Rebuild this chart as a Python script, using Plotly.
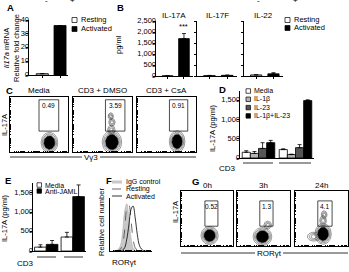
import numpy as np
import plotly.graph_objects as go

W, H = 349, 272
def px(x): return x / W
def py(y): return 1 - y / H

# ---------------- data ----------------
a_groups = ["Resting", "Activated"]
a_values = [1.0, 36.0]
a_ticks = [0, 10, 20, 30, 40]

b_cytokines = ["IL-17A", "IL-17F", "IL-22"]
b_resting = [10, 20, 50]
b_resting_err = [0, 8, 10]
b_activated = [1700, 30, 100]
b_activated_err = [230, 12, 50]
b_ticks = [0, 500, 1000, 1500, 2000, 2500]

c_titles = ["Media", "CD3 + DMSO", "CD3 + CsA"]
c_gate_pct = ["0.49", "3.59", "0.91"]
# cell populations: (cx, cy, sx, sy, is_main)
c_blobs = [
    [(0.68, 0.17, 0.065, 0.085, True)],
    [(0.66, 0.18, 0.075, 0.095, True), (0.65, 0.40, 0.035, 0.05, False), (0.66, 0.54, 0.03, 0.04, False),
     (0.64, 0.65, 0.025, 0.035, False)],
    [(0.68, 0.19, 0.06, 0.09, True)],
]

d_cd3 = ["-", "+"]
d_conditions = ["Media", "IL-1β", "IL-23", "IL-1β+IL-23"]
d_media = [150, 220]
d_media_err = [40, 20]
d_il1b = [120, 90]
d_il1b_err = [50, 10]
d_il23 = [250, 270]
d_il23_err = [150, 80]
d_combo = [400, 1500]
d_combo_err = [60, 20]
d_colors = ["white", "#b4b4b4", "#555555", "black"]
d_ticks = [0, 500, 1000, 1500]

e_cd3 = ["-", "+"]
e_conditions = ["Media", "Anti-JAML"]
e_media = [100, 360]
e_media_err = [60, 120]
e_jaml = [170, 1400]
e_jaml_err = [100, 300]
e_ticks = [0, 500, 1000, 1500]

f_x = [0.10, 0.15, 0.20, 0.25, 0.30, 0.35, 0.40, 0.45, 0.50, 0.55, 0.60, 0.65, 0.70, 0.75, 0.80, 0.85]
f_igg = [0.0, 0.01, 0.04, 0.12, 0.40, 0.85, 1.00, 0.70, 0.28, 0.07, 0.02, 0.0, 0.0, 0.0, 0.0, 0.0]
f_resting = [0.0, 0.0, 0.01, 0.04, 0.14, 0.45, 0.90, 0.98, 0.65, 0.25, 0.07, 0.02, 0.0, 0.0, 0.0, 0.0]
f_activated = [0.0, 0.0, 0.0, 0.0, 0.02, 0.07, 0.25, 0.55, 0.88, 0.95, 0.70, 0.35, 0.12, 0.04, 0.01, 0.0]
f_legend = ["IgG control", "Resting", "Activated"]

g_titles = ["0h", "3h", "24h"]
g_gate_pct = ["0.52", "1.3", "4.1"]
g_blobs = [
    [(0.55, 0.19, 0.075, 0.075, True)],
    [(0.48, 0.17, 0.08, 0.075, True), (0.58, 0.38, 0.04, 0.04, False)],
    [(0.53, 0.22, 0.07, 0.085, True), (0.36, 0.17, 0.07, 0.045, False), (0.53, 0.46, 0.035, 0.05, False),
     (0.55, 0.57, 0.03, 0.04, False)],
]

FONT = "Liberation Sans, Arial, sans-serif"
fig = go.Figure()
annotations = []
shapes = []

def ax_name(n, kind):
    return kind + ("" if n == 1 else str(n))

def ref(n, kind):
    return kind[0] + ("" if n == 1 else str(n))

def text(x, y, s, size=8, anchor="center", vanchor="middle", angle=0, bold=False, xref="paper", yref="paper"):
    if xref == "paper":
        x = px(x)
    if yref == "paper":
        y = py(y)
    annotations.append(dict(x=x, y=y, xref=xref, yref=yref, text=("<b>%s</b>" % s) if bold else s,
                            showarrow=False, xanchor=anchor, yanchor=vanchor, textangle=angle,
                            font=dict(size=size, family=FONT, color="black")))

def ytick_labels(n, x_left, vals):
    # tick labels drawn as a text trace on the subplot's own scales, allowed outside the plot area
    fig.add_trace(go.Scatter(x=[x_left] * len(vals), y=vals, mode="text",
                             text=["{:,}".format(v) for v in vals], textposition="middle left",
                             textfont=dict(size=7.5, family=FONT, color="black"), cliponaxis=False,
                             xaxis=ref(n, "x"), yaxis=ref(n, "y"), showlegend=False, hoverinfo="skip"))

def hline(x0, x1, y, w=0.8):
    shapes.append(dict(type="line", xref="paper", yref="paper", x0=px(x0), x1=px(x1), y0=py(y), y1=py(y),
                       line=dict(color="black", width=w)))

def legend_box(x, y, color, label, size=5, fsize=7.5):
    shapes.append(dict(type="rect", xref="paper", yref="paper", x0=px(x), x1=px(x + size),
                       y0=py(y + size / 2), y1=py(y - size / 2), fillcolor=color,
                       line=dict(color="black", width=0.7)))
    text(x + size + 1.5, y, label, size=fsize, anchor="left")

layout = {}

def set_axes(n, xdom, ydom, xcfg, ycfg):
    base = dict(showgrid=False, zeroline=False, linecolor="black", linewidth=0.8,
                tickcolor="black", ticklen=2, tickwidth=0.8, showticklabels=False)
    xa = dict(base); xa.update(domain=[px(xdom[0]), px(xdom[1])], anchor=ref(n, "y")); xa.update(xcfg)
    ya = dict(base); ya.update(domain=[py(ydom[1]), py(ydom[0])], anchor=ref(n, "x")); ya.update(ycfg)
    layout[ax_name(n, "xaxis")] = xa
    layout[ax_name(n, "yaxis")] = ya

def bars(n, x, y, err, colors, width, name="", offsetgroup=None):
    fig.add_trace(go.Bar(x=x, y=y, width=width, marker=dict(color=colors, line=dict(color="black", width=0.8)),
                         error_y=dict(type="data", array=err, arrayminus=[0] * len(err), symmetric=False,
                                      color="black", thickness=0.8, width=2),
                         xaxis=ref(n, "x"), yaxis=ref(n, "y"), showlegend=False, name=name,
                         offsetgroup=offsetgroup, hoverinfo="skip"))

def yaxis_cfg(vals, top):
    return dict(range=[0, top], showline=True, ticks="outside", tickmode="array", tickvals=vals)

# ---------------- A ----------------
bars(1, [0, 1], a_values, [0, 0], ["white", "black"], 0.68)
a_xrange = [-0.75, 1.45]
set_axes(1, (29, 68), (20, 75),
         dict(range=a_xrange, showline=True, ticks="outside", tickmode="array", tickvals=[0, 1]),
         yaxis_cfg(a_ticks, 40))
ytick_labels(1, a_xrange[0], a_ticks)
text(5, 7, "A", size=9.5, bold=True, anchor="left")
text(11, 48, "<i>Il17a</i> mRNA<br>Relative fold change", size=7.5, angle=-90)
legend_box(72, 20, "white", a_groups[0])
legend_box(72, 29, "black", a_groups[1])

# ---------------- B ----------------
b_dom = [(156, 193), (197, 237), (244, 283)]
b_centers = [174, 217, 263]
b_xrange = [-0.7, 1.55]
for i in range(3):
    n = 2 + i
    bars(n, [0, 1], [b_resting[i], b_activated[i]], [b_resting_err[i], b_activated_err[i]],
         ["white", "black"], 0.65)
    set_axes(n, b_dom[i], (21, 76),
             dict(range=b_xrange, showline=True, ticks="outside", tickmode="array", tickvals=[0, 1]),
             yaxis_cfg(b_ticks, 2500))
    text(b_centers[i], 15, b_cytokines[i], size=8)
ytick_labels(2, b_xrange[0], b_ticks)
text(115, 7, "B", size=9.5, bold=True, anchor="left")
text(119, 45, "pg/ml", size=7.5, angle=-90)
text(1, b_activated[0] + b_activated_err[0] + 40, "***", size=7.5, vanchor="bottom", xref="x2", yref="y2")
legend_box(285, 20, "white", "Resting")
legend_box(285, 28, "black", "Activated")

# ---------------- flow helpers ----------------
theta = np.linspace(0, 2 * np.pi, 48)
flow_ticks = [d * 0.25 + 0.25 * np.log10(k) for d in range(4) for k in range(1, 10)]
ring_main = [2.2, 1.9, 1.65]
ring_minor = [1.8, 1.3, 0.8]
core_scale = 1.45

def flow(n, blobs, xdom, ydom, gate, pct, title, title_y):
    rx, ry, cxs, cys = [], [], [], []
    for cx, cy, sx, sy, main in blobs:
        for s in (ring_main if main else ring_minor):
            rx += list(cx + s * sx * np.cos(theta)) + [None]
            ry += list(cy + s * sy * np.sin(theta)) + [None]
        if main:
            cxs += list(cx + core_scale * sx * np.cos(theta)) + [None]
            cys += list(cy + core_scale * sy * np.sin(theta)) + [None]
    fig.add_trace(go.Scatter(x=rx, y=ry, mode="lines", line=dict(color="#333333", width=0.5),
                             xaxis=ref(n, "x"), yaxis=ref(n, "y"), showlegend=False, hoverinfo="skip"))
    fig.add_trace(go.Scatter(x=cxs, y=cys, mode="lines", fill="toself", fillcolor="black",
                             line=dict(color="black", width=0.5),
                             xaxis=ref(n, "x"), yaxis=ref(n, "y"), showlegend=False, hoverinfo="skip"))
    set_axes(n, xdom, ydom,
             dict(range=[0, 1], showline=True, mirror=True, ticks="inside", tickmode="array", tickvals=flow_ticks,
                  ticklen=1.5),
             dict(range=[0, 1], showline=True, mirror=True, ticks="inside", tickmode="array", tickvals=flow_ticks,
                  ticklen=1.5))
    shapes.append(dict(type="rect", xref=ref(n, "x"), yref=ref(n, "y"), x0=gate[0], x1=gate[1],
                       y0=gate[2], y1=gate[3], line=dict(color="black", width=0.7), layer="above"))
    text((gate[0] + gate[1]) / 2, gate[3] - 0.1, pct, size=6.5, xref=ref(n, "x"), yref=ref(n, "y"))
    text((xdom[0] + xdom[1]) / 2, title_y, title, size=8)

# ---------------- C ----------------
c_dom = [(10, 68), (73, 132), (137, 196)]
c_gates = [(0.50, 0.84, 0.38, 0.95), (0.55, 0.88, 0.38, 0.95), (0.55, 0.86, 0.38, 0.95)]
for i in range(3):
    flow(5 + i, c_blobs[i], c_dom[i], (97, 152), c_gates[i], c_gate_pct[i], c_titles[i], 91)
text(4, 91, "C", size=9.5, bold=True, anchor="left")
text(5, 125, "IL-17A", size=7.5, angle=-90)
hline(10, 82, 157)
hline(100, 196, 157)
text(91, 157, "Vγ3", size=8)

# ---------------- D ----------------
d_pos = list(range(len(d_cd3)))
d_series = [(d_media, d_media_err), (d_il1b, d_il1b_err), (d_il23, d_il23_err), (d_combo, d_combo_err)]
for k, (vals, errs) in enumerate(d_series):
    bars(8, d_pos, vals, errs, d_colors[k], None, name=d_conditions[k], offsetgroup=str(k))
set_axes(8, (240, 314), (91, 158), dict(range=[-0.5, 1.5], showline=True, ticks=""),
         yaxis_cfg(d_ticks, 1750))
ytick_labels(8, -0.5, d_ticks)
text(217, 90, "D", size=9.5, bold=True, anchor="left")
text(212, 128, "IL-17A (pg/ml)", size=7.5, angle=-90)
for k in range(4):
    legend_box(246, 91 + k * 8.3, d_colors[k], d_conditions[k], size=4.5, fsize=7)
hline(243, 273, 163)
hline(279, 311, 163)
text(217, 168, "CD3", size=8, anchor="left")
for j, lab in enumerate(d_cd3):
    text(j, py(168), lab, size=8, xref="x8")

# ---------------- E ----------------
e_pos = list(range(len(e_cd3)))
e_series = [(e_media, e_media_err, "white"), (e_jaml, e_jaml_err, "black")]
for k, (vals, errs, col) in enumerate(e_series):
    bars(9, e_pos, vals, errs, col, None, name=e_conditions[k], offsetgroup=str(k))
set_axes(9, (33, 86), (183, 251), dict(range=[-0.5, 1.5], showline=True, ticks=""),
         yaxis_cfg(e_ticks, 1750))
ytick_labels(9, -0.5, e_ticks)
text(3, 180, "E", size=9.5, bold=True, anchor="left")
text(4, 218, "IL-17A (pg/ml)", size=7.5, angle=-90)
legend_box(37, 185, "white", e_conditions[0], size=4.5, fsize=7)
legend_box(37, 191, "black", e_conditions[1], size=4.5, fsize=7)
hline(37, 56, 257)
hline(64, 83, 257)
text(15, 263, "CD3", size=8, anchor="left")
for j, lab in enumerate(e_cd3):
    text(j, py(263), lab, size=8, xref="x9")

# ---------------- F ----------------
fig.add_trace(go.Scatter(x=f_x, y=f_igg, mode="lines", fill="tozeroy", fillcolor="#c8c8c8",
                         line=dict(color="#b0b0b0", width=0.6, shape="spline"),
                         xaxis="x10", yaxis="y10", showlegend=False, hoverinfo="skip"))
fig.add_trace(go.Scatter(x=f_x, y=f_resting, mode="lines", line=dict(color="#444444", width=0.8, dash="dash", shape="spline"),
                         xaxis="x10", yaxis="y10", showlegend=False, hoverinfo="skip"))
fig.add_trace(go.Scatter(x=f_x, y=f_activated, mode="lines", line=dict(color="black", width=0.8, shape="spline"),
                         xaxis="x10", yaxis="y10", showlegend=False, hoverinfo="skip"))
set_axes(10, (110, 152), (198, 251),
         dict(range=[0, 1], showline=True, ticks="inside", tickmode="array", tickvals=flow_ticks, ticklen=1.5),
         dict(range=[0, 1.12], showline=True, ticks=""))
text(104, 180, "F", size=9.5, bold=True, anchor="left")
text(101, 222, "Relative cell number", size=7.5, angle=-90)
text(124, 262, "RORγt", size=8)
shapes.append(dict(type="line", xref="paper", yref="paper", x0=px(112), x1=px(122), y0=py(182), y1=py(182),
                   line=dict(color="#c8c8c8", width=3)))
shapes.append(dict(type="line", xref="paper", yref="paper", x0=px(112), x1=px(122), y0=py(189), y1=py(189),
                   line=dict(color="#444444", width=0.8, dash="dash")))
shapes.append(dict(type="line", xref="paper", yref="paper", x0=px(112), x1=px(122), y0=py(196), y1=py(196),
                   line=dict(color="black", width=0.8)))
for k in range(3):
    text(124, 182 + 7 * k, f_legend[k], size=7, anchor="left")

# ---------------- G ----------------
g_dom = [(181, 233), (237, 290), (295, 348)]
g_gates = [(0.46, 0.71, 0.36, 0.82), (0.43, 0.68, 0.36, 0.82), (0.43, 0.70, 0.36, 0.82)]
for i in range(3):
    flow(11 + i, g_blobs[i], g_dom[i], (191, 246), g_gates[i], g_gate_pct[i], g_titles[i], 185)
text(190, 181, "G", size=9.5, bold=True, anchor="left")
text(175, 212, "IL-17A", size=7.5, angle=-90)
hline(181, 255, 253)
hline(283, 348, 253)
text(269, 253, "RORγt", size=8)

fig.update_layout(width=W, height=H, margin=dict(l=0, r=0, t=0, b=0), paper_bgcolor="white",
                  plot_bgcolor="rgba(0,0,0,0)", barmode="group", bargap=0.12, bargroupgap=0.0,
                  showlegend=False, annotations=annotations, shapes=shapes,
                  font=dict(family=FONT, size=8, color="black"), **layout)
fig.write_html("out.html")
